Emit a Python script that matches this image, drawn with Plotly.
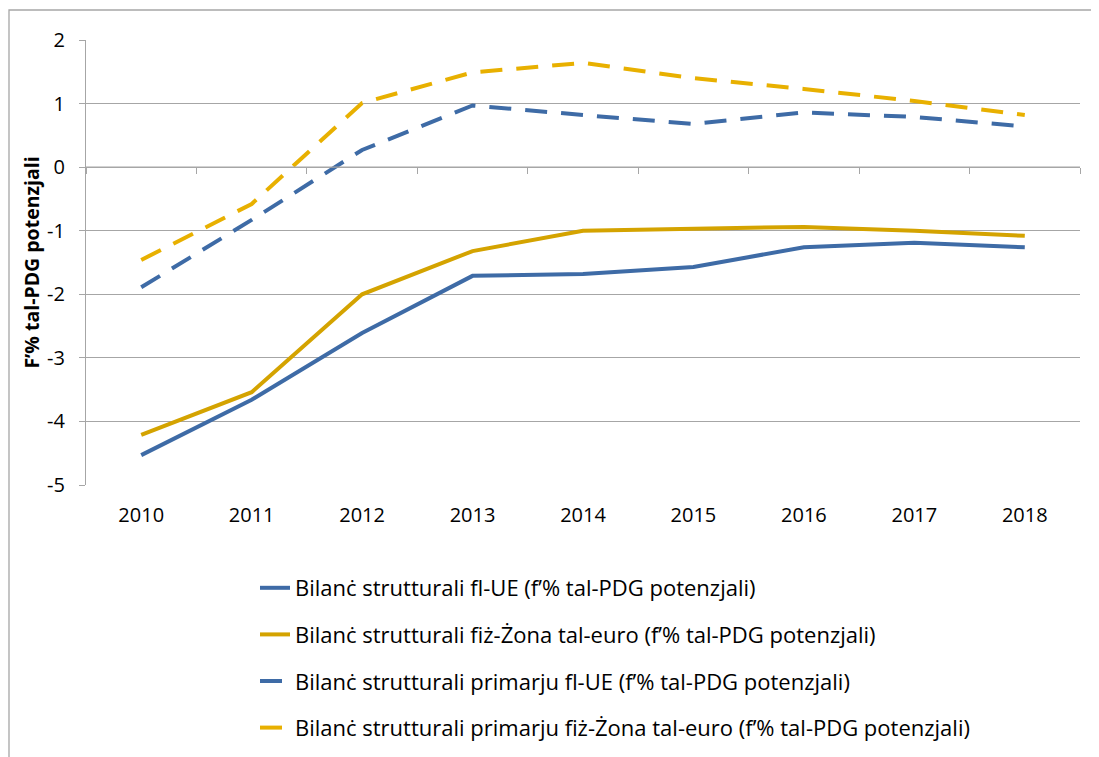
import plotly.graph_objects as go

years = ["2010", "2011", "2012", "2013", "2014", "2015", "2016", "2017", "2018"]

# Bilanċ strutturali (f'% tal-PDG potenzjali)
eu_structural = [-4.53, -3.66, -2.61, -1.71, -1.68, -1.57, -1.26, -1.19, -1.26]
ea_structural = [-4.21, -3.54, -2.00, -1.32, -1.00, -0.97, -0.94, -1.00, -1.08]
eu_primary = [-1.89, -0.83, 0.27, 0.97, 0.82, 0.68, 0.86, 0.79, 0.64]
ea_primary = [-1.46, -0.58, 1.01, 1.49, 1.64, 1.40, 1.23, 1.04, 0.82]

y_ticks = [-5, -4, -3, -2, -1, 0, 1, 2]
y_ticktext = ["-5", "-4", "-3", "-2", "-1", "0", "1", "2"]

names = [
    "Bilanċ strutturali fl-UE (f’% tal-PDG potenzjali)",
    "Bilanċ strutturali fiż-Żona tal-euro (f’% tal-PDG potenzjali)",
    "Bilanċ strutturali primarju fl-UE (f’% tal-PDG potenzjali)",
    "Bilanċ strutturali primarju fiż-Żona tal-euro (f’% tal-PDG potenzjali)",
]

BLUE = "#3E6BA6"
GOLD = "#D4A300"
GOLD_DASH = "#E8B000"
GRID = "#A6A6A6"
FONT = "Open Sans"

fig = go.Figure()

series = [
    (eu_structural, BLUE, "solid"),
    (ea_structural, GOLD, "solid"),
    (eu_primary, BLUE, "22px,14px"),
    (ea_primary, GOLD_DASH, "22px,14px"),
]
for i, (vals, color, dash) in enumerate(series):
    fig.add_trace(go.Scatter(
        x=years, y=vals, mode="lines", name=names[i],
        legendgroup=f"g{i}",
        line=dict(color=color, width=4, dash=dash),
    ))

# horizontal axis crossing at zero, tick marks between categories
fig.add_trace(go.Scatter(x=[-0.5, 8.5], y=[0, 0], xaxis="x2", mode="lines",
                         line=dict(color=GRID, width=1.3), showlegend=False,
                         hoverinfo="skip"))

# page body has an 8px margin, so the figure sits 8px right/down
W, H = 1099, 757
L, R, T, B = 78, 27, 32, 280
ymin, ymax = -5, 2
pw, ph = W - L - R, H - T - B

fig.update_layout(
    width=W, height=H,
    margin=dict(l=L, r=R, t=T, b=B),
    paper_bgcolor="white", plot_bgcolor="white",
    font=dict(family=FONT, size=20, color="black"),
    showlegend=True,
    legend=dict(
        x=(247 - L) / pw, xanchor="left",
        y=-(559 - (H - B)) / ph, yanchor="top",
        font=dict(family=FONT, size=22),
        tracegroupgap=15,
        bgcolor="rgba(0,0,0,0)",
    ),
    xaxis=dict(
        type="category", range=[-0.5, 8.5], showgrid=False, showline=False, ticks="",
        tickfont=dict(size=20), ticklabelstandoff=16, fixedrange=True,
    ),
    xaxis2=dict(
        overlaying="x", anchor="free", position=(0 - ymin) / (ymax - ymin),
        range=[-0.5, 8.5],
        tickmode="array", tickvals=[i - 0.5 for i in range(10)],
        showticklabels=False, ticks="outside", ticklen=6, tickcolor=GRID,
        tickwidth=1.3, showgrid=False, showline=False, zeroline=False,
        side="bottom",
    ),
    yaxis=dict(
        range=[ymin, ymax], tickmode="array", tickvals=y_ticks, ticktext=y_ticktext,
        showgrid=True, gridcolor=GRID, gridwidth=1.3,
        showline=True, linecolor=GRID, linewidth=1.3, zeroline=False,
        ticks="outside", ticklen=6, tickcolor=GRID, tickwidth=1.3,
        tickfont=dict(size=20), ticklabelstandoff=10,
        title=dict(text="<b>F’% tal-PDG potenzjali</b>", font=dict(size=19.5), standoff=2),
    ),
)

# outer chart border
fig.add_shape(type="rect", xref="paper", yref="paper",
              x0=(1 - L) / pw, x1=1.2,
              y0=-1.0, y1=(H - B - 2) / ph,
              line=dict(color=GRID, width=1.3), fillcolor="rgba(0,0,0,0)", layer="below")

fig.write_html("out.html")
